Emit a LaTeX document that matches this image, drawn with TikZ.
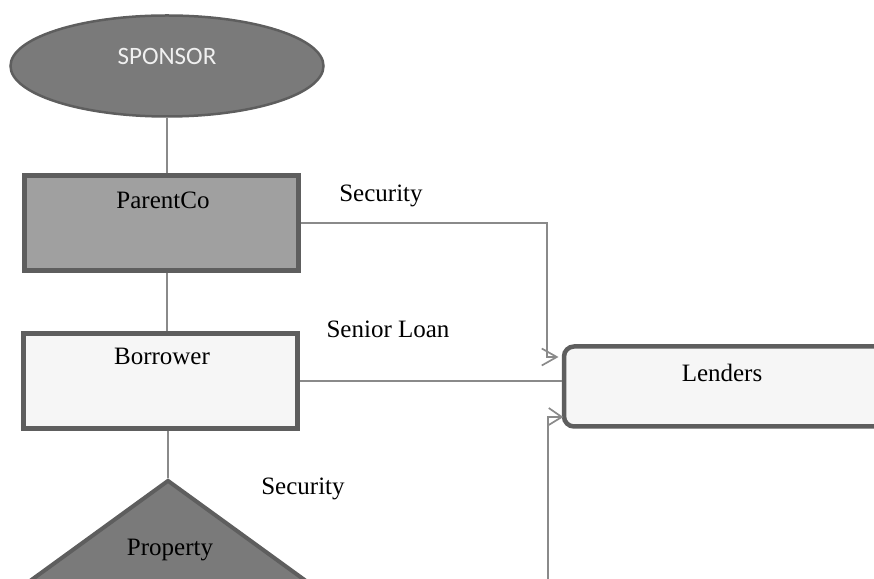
\documentclass[tikz,border=0pt]{standalone}
\usepackage{fontspec}
\setmainfont{Liberation Serif}
\newfontfamily\calfont{Carlito}
\usetikzlibrary{shapes.geometric}
\definecolor{edgegray}{HTML}{5E5E5E}
\definecolor{wiregray}{HTML}{8A8A8A}
\definecolor{darkfill}{HTML}{7A7A7A}
\definecolor{midfill}{HTML}{A0A0A0}
\definecolor{lightfill}{HTML}{F6F6F6}
\tikzset{
  x=1pt, y=1pt,
  box/.style={draw=edgegray, line width=4.5pt, inner sep=0pt, minimum width=274pt, minimum height=95pt},
  wire/.style={draw=wiregray, line width=1.5pt},
  barb/.style={draw=wiregray, line width=1.7pt, line join=miter},
  txt/.style={anchor=base, inner sep=0pt, font=\fontsize{25}{28}\selectfont},
}
\begin{document}
\begin{tikzpicture}
\useasboundingbox (0,0) rectangle (874,578);
\clip (0,0) rectangle (874,578);

% shapes
\node[ellipse, draw=edgegray, line width=2.5pt, fill=darkfill, minimum width=313pt, minimum height=101pt, inner sep=0pt] (sponsor) at (167,512) {};
\node[box, fill=midfill] (parent) at (161.5,355) {};
\node[box, fill=lightfill] (borrower) at (160.5,197) {};
\node[box, rounded corners=10pt, fill=lightfill, minimum width=340pt, minimum height=80pt] (lenders) at (734,191.5) {};
\node[diamond, draw=edgegray, line width=4pt, fill=darkfill, minimum width=410pt, minimum height=298pt, inner sep=0pt] (property) at (168,-51) {};

% texts
\node[txt, font=\calfont\fontsize{25}{28}\selectfont, text=white!94!black] (tsponsor) at (167,513) {SPONSOR};
\node[txt] (tparent) at (163,369) {ParentCo};
\node[txt] (tborrower) at (162,213) {Borrower};
\node[txt] (tlenders) at (722,196) {Lenders};
\node[txt] (tproperty) at (170,23) {Property};
\node[txt] (lsec1) at (381,376) {Security};
\node[txt] (lloan) at (388,240) {Senior Loan};
\node[txt] (lsec2) at (303,84) {Security};

% vertical links
\draw[wire] (sponsor.south) -- (sponsor.south |- parent.north);
\draw[wire] (sponsor.south |- parent.south) -- (sponsor.south |- borrower.north);
\draw[wire] (property.north |- borrower.south) -- (property.north);

% links to the lenders, with open barbed heads at their tips
\coordinate (tip1) at ([xshift=-5pt,yshift=29.5pt]lenders.west);
\coordinate (tip3) at ([xshift=0pt,yshift=-30.5pt]lenders.west);
\coordinate (foot) at (548,-5);
\draw[wire] (parent.east) -| (547,0 |- tip1) -- (tip1);
\draw[barb] ([xshift=-15pt,yshift=8.5pt]tip1) -- (tip1) -- ([xshift=-15pt,yshift=-8.5pt]tip1);
\draw[wire] (borrower.east) -- (borrower.east -| lenders.west);
\draw[wire] (foot) |- (tip3);
\draw[barb] ([xshift=-13pt,yshift=9pt]tip3) -- (tip3) -- ([xshift=-13pt,yshift=-8pt]tip3);
\end{tikzpicture}
\end{document}
